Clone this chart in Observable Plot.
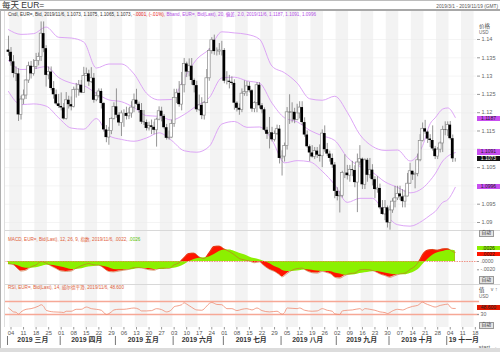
<!DOCTYPE html>
<html><head><meta charset="utf-8">
<script src="https://cdn.jsdelivr.net/npm/d3@7"></script>
<script src="https://cdn.jsdelivr.net/npm/@observablehq/plot@0.6"></script>
<style>
html,body{margin:0;padding:0;background:#fff}
#root{position:relative;width:500px;height:352px;overflow:hidden;font-family:"Liberation Sans","Noto Sans CJK SC",sans-serif;color:#333;background:#fff}
#root svg{position:absolute;left:0;overflow:visible}
.t{position:absolute;white-space:nowrap;line-height:1}
.row{position:absolute;white-space:nowrap;line-height:1;display:flex}
.row span{white-space:pre}
.box{position:absolute;left:477px;width:23px;font-size:5px;text-align:center;overflow:hidden}
.hl{position:absolute;height:1px}
</style></head><body><div id="root"></div>
<script>
// ---------------- DATA ----------------
const firstDay = "2019-03-01", lastDay = "2019-11-06";
const opens = [1.1371,1.1365,1.1339,1.1307,1.1306,1.1194,1.1236,1.1247,1.1288,1.1327,1.1306,1.1325,1.1341,1.1352,1.1416,1.1375,1.1302,1.1311,1.1266,1.1249,1.1224,
1.1217,1.1213,1.1183,1.1234,1.1222,1.1216,1.1262,1.1263,1.1275,1.1254,1.1300,1.1306,1.1284,1.1294,1.1234,1.1245,1.1258,1.1225,1.1153,1.1132,1.1150,1.1183,
1.1216,1.1193,1.1172,1.1198,1.1198,1.1190,1.1198,1.1214,1.1234,1.1223,1.1206,1.1174,1.1173,1.1157,1.1164,1.1160,1.1152,1.1181,1.1204,1.1190,1.1159,1.1130,1.1132,
1.1169,1.1240,1.1253,1.1222,1.1275,1.1333,1.1311,1.1327,1.1288,1.1274,1.1208,1.1220,1.1192,1.1226,1.1294,1.1369,1.1398,1.1367,1.1367,1.1370,
1.1370,1.1286,1.1286,1.1283,1.1280,1.1226,1.1212,1.1207,1.1252,1.1256,1.1272,1.1260,1.1210,1.1226,1.1275,1.1219,1.1208,1.1152,1.1141,1.1145,1.1126,1.1142,1.1155,
1.1075,1.1080,1.1109,1.1201,1.1200,1.1201,1.1180,1.1198,1.1214,1.1173,1.1139,1.1107,1.1090,1.1079,1.1095,1.1084,1.1081,1.1143,1.1099,1.1087,1.1075,1.1057,
1.0985,1.0971,1.0973,1.1035,1.1035,1.1028,1.1044,1.1042,1.1009,1.1064,1.1073,1.1003,1.1070,1.1029,1.1043,1.1017,1.0990,1.0993,1.0940,1.0922,1.0940,
1.0899,1.0933,1.0957,1.0966,1.0978,1.0970,1.0957,1.0971,1.1006,1.1040,1.1030,1.1033,1.1070,1.1123,1.1156,1.1147,1.1128,1.1124,1.1101,1.1080,1.1099,1.1116,1.1153,
1.1152,1.1166,1.1129,1.1073];
const highs = [1.1409,1.1378,1.1356,1.1325,1.1320,1.1245,1.1262,1.1290,1.1338,1.1340,1.1345,1.1362,1.1363,1.1448,1.1448,1.1383,1.1325,1.1325,1.1285,1.1262,1.1250,
1.1254,1.1225,1.1255,1.1245,1.1243,1.1270,1.1280,1.1288,1.1288,1.1324,1.1322,1.1316,1.1323,1.1307,1.1255,1.1265,1.1265,1.1228,1.1165,1.1160,1.1186,1.1227,
1.1265,1.1200,1.1205,1.1208,1.1215,1.1212,1.1230,1.1251,1.1264,1.1229,1.1225,1.1206,1.1180,1.1174,1.1180,1.1174,1.1185,1.1216,1.1215,1.1195,1.1168,1.1150,1.1180,
1.1264,1.1264,1.1285,1.1310,1.1348,1.1338,1.1347,1.1348,1.1292,1.1286,1.1248,1.1241,1.1230,1.1318,1.1375,1.1405,1.1412,1.1377,1.1389,1.1395,
1.1375,1.1312,1.1302,1.1298,1.1290,1.1230,1.1224,1.1265,1.1287,1.1285,1.1283,1.1263,1.1230,1.1282,1.1282,1.1225,1.1213,1.1160,1.1187,1.1160,1.1150,1.1166,1.1165,
1.1096,1.1117,1.1214,1.1249,1.1227,1.1212,1.1223,1.1230,1.1230,1.1186,1.1150,1.1112,1.1110,1.1105,1.1105,1.1112,1.1153,1.1164,1.1116,1.1095,1.1087,1.1064,
1.0995,1.0985,1.1040,1.1085,1.1056,1.1056,1.1067,1.1055,1.1087,1.1110,1.1076,1.1074,1.1075,1.1075,1.1058,1.1025,1.1025,1.1005,1.0960,1.0960,1.0945,
1.0945,1.0965,1.0999,1.0999,1.0999,1.0990,1.0988,1.1034,1.1062,1.1040,1.1036,1.1087,1.1140,1.1172,1.1179,1.1150,1.1140,1.1164,1.1108,1.1105,1.1120,1.1163,1.1175,
1.1175,1.1176,1.1139,1.1075];
const lows = [1.1354,1.1327,1.1295,1.1285,1.1176,1.1180,1.1222,1.1236,1.1280,1.1292,1.1300,1.1318,1.1328,1.1340,1.1364,1.1270,1.1290,1.1260,1.1237,1.1220,1.1212,
1.1205,1.1180,1.1180,1.1210,1.1205,1.1213,1.1240,1.1245,1.1252,1.1254,1.1299,1.1272,1.1280,1.1226,1.1230,1.1240,1.1210,1.1147,1.1118,1.1111,1.1140,1.1180,
1.1185,1.1163,1.1135,1.1160,1.1180,1.1181,1.1185,1.1200,1.1220,1.1198,1.1168,1.1165,1.1150,1.1150,1.1140,1.1140,1.1106,1.1178,1.1175,1.1155,1.1125,1.1125,1.1130,
1.1160,1.1225,1.1215,1.1205,1.1254,1.1296,1.1298,1.1275,1.1254,1.1201,1.1203,1.1181,1.1180,1.1226,1.1286,1.1360,1.1357,1.1355,1.1357,1.1355,
1.1279,1.1276,1.1265,1.1275,1.1207,1.1202,1.1193,1.1200,1.1245,1.1244,1.1254,1.1201,1.1200,1.1200,1.1210,1.1197,1.1148,1.1127,1.1101,1.1120,1.1120,1.1138,1.1060,
1.1027,1.1065,1.1098,1.1168,1.1172,1.1170,1.1178,1.1183,1.1165,1.1133,1.1103,1.1066,1.1076,1.1072,1.1075,1.1065,1.1050,1.1092,1.1080,1.1065,1.1048,1.0965,
1.0959,1.0926,1.0967,1.1020,1.1016,1.1010,1.1025,1.0995,1.0927,1.1055,1.0990,1.0990,1.1010,1.1020,1.1000,1.0965,1.0980,1.0935,1.0920,1.0905,1.0885,
1.0879,1.0925,1.0940,1.0960,1.0960,1.0940,1.0940,1.0970,1.1004,1.1015,1.0992,1.1025,1.1066,1.1120,1.1141,1.1116,1.1105,1.1095,1.1072,1.1072,1.1090,1.1091,1.1137,
1.1135,1.1125,1.1064,1.1065];
const closes = [1.1365,1.1339,1.1307,1.1306,1.1194,1.1236,1.1247,1.1288,1.1327,1.1306,1.1325,1.1341,1.1352,1.1416,1.1375,1.1302,1.1311,1.1266,1.1249,1.1224,1.1217,
1.1213,1.1183,1.1234,1.1222,1.1216,1.1262,1.1263,1.1275,1.1254,1.1300,1.1306,1.1284,1.1294,1.1234,1.1245,1.1258,1.1225,1.1153,1.1132,1.1150,1.1183,1.1216,
1.1193,1.1172,1.1198,1.1198,1.1190,1.1198,1.1214,1.1234,1.1223,1.1206,1.1174,1.1173,1.1157,1.1164,1.1160,1.1152,1.1181,1.1204,1.1190,1.1159,1.1130,1.1132,1.1169,
1.1240,1.1253,1.1222,1.1275,1.1333,1.1311,1.1327,1.1288,1.1274,1.1208,1.1220,1.1192,1.1226,1.1294,1.1369,1.1398,1.1367,1.1367,1.1370,1.1370,
1.1286,1.1286,1.1283,1.1280,1.1226,1.1212,1.1207,1.1252,1.1256,1.1272,1.1260,1.1210,1.1226,1.1275,1.1219,1.1208,1.1152,1.1141,1.1145,1.1126,1.1142,1.1155,1.1075,
1.1080,1.1109,1.1201,1.1200,1.1201,1.1180,1.1198,1.1214,1.1173,1.1139,1.1107,1.1090,1.1079,1.1095,1.1084,1.1081,1.1143,1.1099,1.1087,1.1075,1.1057,1.0985,
1.0971,1.0973,1.1035,1.1035,1.1028,1.1044,1.1042,1.1009,1.1064,1.1073,1.1003,1.1070,1.1029,1.1043,1.1017,1.0990,1.0993,1.0940,1.0922,1.0940,1.0899,
1.0933,1.0957,1.0966,1.0978,1.0970,1.0957,1.0971,1.1006,1.1040,1.1030,1.1033,1.1070,1.1123,1.1156,1.1147,1.1128,1.1124,1.1101,1.1080,1.1099,1.1116,1.1153,1.1152,
1.1166,1.1129,1.1074,1.1073];

// Bollinger (20, 2.0) read at weekly points
const bandDates = ["2019-03-01","2019-03-08","2019-03-15","2019-03-22","2019-03-29","2019-04-05","2019-04-12","2019-04-19","2019-04-26","2019-05-03","2019-05-10","2019-05-17","2019-05-24","2019-05-31","2019-06-07","2019-06-14","2019-06-21","2019-06-28","2019-07-05","2019-07-12","2019-07-19","2019-07-26","2019-08-02","2019-08-09","2019-08-16","2019-08-23","2019-08-30","2019-09-06","2019-09-13","2019-09-20","2019-09-27","2019-10-04","2019-10-11","2019-10-18","2019-10-23","2019-10-25","2019-10-30","2019-11-01","2019-11-06"];
const bandMid = [1.1343,1.1318,1.1320,1.1326,1.1296,1.1281,1.1274,1.1253,1.1235,1.1230,1.1214,1.1192,1.1190,1.1180,1.1195,1.1219,1.1241,1.1295,1.1297,1.1287,1.1281,1.1226,1.1186,1.1175,1.1152,1.1137,1.1124,1.1078,1.1053,1.1037,1.1011,1.0996,1.0981,1.0994,1.1015,1.1033,1.1068,1.1081,1.1091];
const bandUpper = [1.1427,1.1414,1.1416,1.1434,1.1406,1.1404,1.1393,1.1322,1.1333,1.1333,1.1306,1.1253,1.1235,1.1236,1.1294,1.1346,1.1374,1.1421,1.1418,1.1414,1.1401,1.1327,1.1309,1.1281,1.1238,1.1234,1.1245,1.1201,1.1140,1.1108,1.1097,1.1098,1.1068,1.1110,1.1170,1.1186,1.1210,1.1213,1.1187];
const bandLower = [1.1258,1.1222,1.1224,1.1218,1.1186,1.1158,1.1155,1.1184,1.1137,1.1127,1.1122,1.1131,1.1145,1.1124,1.1096,1.1092,1.1108,1.1169,1.1176,1.1160,1.1161,1.1125,1.1063,1.1069,1.1066,1.1040,1.1003,1.0955,1.0966,1.0966,1.0925,1.0894,1.0890,1.0905,1.0920,1.0930,1.0955,1.0962,1.0996];

// MACD (12,26,9)
const macdDates = ["2019-03-01","2019-03-05","2019-03-07","2019-03-08","2019-03-12","2019-03-14","2019-03-18","2019-03-20","2019-03-22","2019-03-26","2019-03-28","2019-04-01","2019-04-03","2019-04-05","2019-04-09","2019-04-12","2019-04-16","2019-04-18","2019-04-22","2019-04-24","2019-04-26","2019-04-30","2019-05-02","2019-05-06","2019-05-08","2019-05-10","2019-05-14","2019-05-16","2019-05-20","2019-05-22","2019-05-24","2019-05-28","2019-05-30","2019-06-03","2019-06-05","2019-06-07","2019-06-11","2019-06-13","2019-06-17","2019-06-19","2019-06-21","2019-06-25","2019-06-27","2019-07-01","2019-07-03","2019-07-05","2019-07-09","2019-07-11","2019-07-15","2019-07-17","2019-07-19","2019-07-23","2019-07-25","2019-07-29","2019-07-31","2019-08-01","2019-08-05","2019-08-07","2019-08-09","2019-08-13","2019-08-15","2019-08-19","2019-08-21","2019-08-23","2019-08-27","2019-08-29","2019-08-30","2019-09-03","2019-09-05","2019-09-09","2019-09-11","2019-09-13","2019-09-17","2019-09-19","2019-09-23","2019-09-25","2019-09-27","2019-10-01","2019-10-03","2019-10-07","2019-10-09","2019-10-11","2019-10-15","2019-10-17","2019-10-18","2019-10-22","2019-10-24","2019-10-28","2019-10-30","2019-11-01","2019-11-04","2019-11-05","2019-11-06"];
const macdValues = [-0.0005,-0.0008,-0.0019,-0.0023,-0.0021,-0.0013,-0.0008,0.0000,-0.0004,-0.0011,-0.0017,-0.0023,-0.0024,-0.0023,-0.0016,-0.0008,-0.0005,-0.0008,-0.0009,-0.0016,-0.0024,-0.0025,-0.0023,-0.0021,-0.0019,-0.0015,-0.0015,-0.0017,-0.0020,-0.0021,-0.0017,-0.0016,-0.0017,-0.0008,-0.0003,0.0009,0.0019,0.0020,0.0011,0.0007,0.0021,0.0036,0.0037,0.0030,0.0024,0.0016,0.0007,0.0004,0.0001,-0.0003,-0.0001,-0.0011,-0.0019,-0.0024,-0.0032,-0.0037,-0.0029,-0.0021,-0.0017,-0.0016,-0.0023,-0.0027,-0.0028,-0.0024,-0.0027,-0.0032,-0.0038,-0.0040,-0.0034,-0.0029,-0.0028,-0.0020,-0.0019,-0.0020,-0.0024,-0.0030,-0.0034,-0.0038,-0.0034,-0.0030,-0.0028,-0.0019,-0.0011,0.0005,0.0016,0.0027,0.0029,0.0027,0.0030,0.0031,0.0028,0.0024,0.0022];
const signalValues = [-0.0008,-0.0008,-0.0011,-0.0013,-0.0016,-0.0016,-0.0015,-0.0012,-0.0009,-0.0009,-0.0011,-0.0013,-0.0016,-0.0019,-0.0019,-0.0016,-0.0013,-0.0012,-0.0011,-0.0012,-0.0015,-0.0019,-0.0020,-0.0020,-0.0020,-0.0019,-0.0017,-0.0017,-0.0017,-0.0019,-0.0019,-0.0019,-0.0017,-0.0016,-0.0013,-0.0008,0.0000,0.0005,0.0008,0.0009,0.0011,0.0017,0.0024,0.0028,0.0028,0.0025,0.0020,0.0016,0.0011,0.0007,0.0004,0.0000,-0.0005,-0.0012,-0.0017,-0.0021,-0.0024,-0.0024,-0.0023,-0.0021,-0.0020,-0.0021,-0.0023,-0.0024,-0.0024,-0.0025,-0.0028,-0.0030,-0.0033,-0.0033,-0.0032,-0.0029,-0.0027,-0.0025,-0.0024,-0.0025,-0.0028,-0.0030,-0.0032,-0.0032,-0.0032,-0.0029,-0.0024,-0.0015,-0.0008,0.0005,0.0015,0.0021,0.0024,0.0027,0.0027,0.0027,0.0026];

// RSI (14, Wilder)
const rsiDates = ["2019-03-01","2019-03-04","2019-03-05","2019-03-06","2019-03-07","2019-03-08","2019-03-12","2019-03-14","2019-03-19","2019-03-20","2019-03-21","2019-03-22","2019-03-27","2019-04-01","2019-04-02","2019-04-03","2019-04-05","2019-04-09","2019-04-11","2019-04-15","2019-04-17","2019-04-19","2019-04-23","2019-04-25","2019-04-29","2019-04-30","2019-05-02","2019-05-06","2019-05-08","2019-05-10","2019-05-14","2019-05-15","2019-05-17","2019-05-21","2019-05-23","2019-05-27","2019-05-29","2019-05-31","2019-06-03","2019-06-04","2019-06-06","2019-06-07","2019-06-10","2019-06-12","2019-06-14","2019-06-18","2019-06-20","2019-06-21","2019-06-24","2019-06-26","2019-06-28","2019-07-02","2019-07-04","2019-07-08","2019-07-10","2019-07-12","2019-07-16","2019-07-18","2019-07-22","2019-07-25","2019-07-30","2019-08-01","2019-08-02","2019-08-05","2019-08-09","2019-08-12","2019-08-14","2019-08-19","2019-08-21","2019-08-23","2019-08-27","2019-08-29","2019-08-30","2019-09-03","2019-09-04","2019-09-06","2019-09-10","2019-09-13","2019-09-16","2019-09-17","2019-09-19","2019-09-23","2019-09-25","2019-09-27","2019-09-30","2019-10-02","2019-10-04","2019-10-08","2019-10-10","2019-10-14","2019-10-16","2019-10-18","2019-10-21","2019-10-23","2019-10-25","2019-10-29","2019-10-31","2019-11-01","2019-11-04","2019-11-05","2019-11-06"];
const rsiValues = [50,44,38,37,31,38,46,48,56,60,55,43,38,37,36,40,40,46,46,53,48,46,43,30,38,44,46,46,48,50,46,41,41,42,48,45,38,45,54,56,60,66,62,52,44,43,56,64,67,61,60,48,48,42,46,48,44,50,42,38,40,31,36,50,48,50,43,40,41,48,43,40,32,30,41,43,44,48,43,48,46,43,38,36,33,41,46,44,50,55,58,68,64,58,53,58,61,62,53,48.7,48.6];

// axis labels
const weekLabels = ["04","11","18","25","01","08","15","22","29","06","13","20","27","03","10","17","24","01","08","15","22","29","05","12","19","26","02","09","16","23","30","07","14","21","28","04","11","18"];
const monthLabels = ["2019 三月","2019 四月","2019 五月","2019 六月","2019 七月","2019 八月","2019 九月","2019 十月","19 十一月"];
const priceTicks = [1.09,1.095,1.1,1.105,1.11,1.115,1.12,1.125,1.13,1.135,1.14];
const priceTickLabels = [1.09,1.095,1.105,1.115,1.12,1.125,1.13,1.135,1.14];
const last = {close: 1.1073, upper: 1.1187, mid: 1.1091, lower: 1.0996, macd: 0.0022, signal: 0.0026, rsi: 48.6};

// ---------------- BUILD ----------------
const fmtDay = d3.utcFormat("%Y-%m-%d");
const days = d3.utcDays(new Date(firstDay), d3.utcDay.offset(new Date(lastDay), 1)).filter(d => d.getUTCDay() % 6 !== 0);
const dayIdx = new Map(days.map((d, i) => [fmtDay(d), i]));
const candles = days.map((d, i) => ({i, o: opens[i], h: highs[i], l: lows[i], c: closes[i]}));
const bands = bandDates.map((d, k) => ({i: dayIdx.get(d), up: bandUpper[k], mid: bandMid[k], lo: bandLower[k]}));
const macd = macdDates.map((d, k) => ({i: dayIdx.get(d), m: macdValues[k], s: signalValues[k]}));
const rsi = rsiDates.map((d, k) => ({i: dayIdx.get(d), v: rsiValues[k]}));
const weeks = d3.range(-1, 38).map(w => ({x1: 5 * w + 0.5, x2: 5 * w + 5.5, gray: w % 2 === 0}));
const grayWeeks = weeks.filter(w => w.gray);
const monthStarts = [];
days.forEach((d, i) => { if (i === 0 || d.getUTCMonth() !== days[i - 1].getUTCMonth()) monthStarts.push(i); });
const months = monthLabels.map((lab, k) => ({lab, start: monthStarts[k], end: k + 1 < monthStarts.length ? monthStarts[k + 1] : null}));
const weekTicks = weekLabels.map((lab, k) => 1 + 5 * k);
const tickLab = new Map(weekTicks.map((t, k) => [t, weekLabels[k]]));

const xDomain = [-1.59, 186.46];
const FONT = '"Liberation Sans","Noto Sans CJK SC",sans-serif';
const root = document.getElementById("root");
const base = (h) => ({width: 500, height: h, marginLeft: 4, marginRight: 24, marginTop: 0, marginBottom: 0,
  x: {domain: xDomain, axis: null}, style: {background: "transparent", fontFamily: FONT, fontSize: "6px", color: "#555"}});
const stripes = Plot.rect(grayWeeks, {x1: "x1", x2: "x2", fill: "#f3f3f3", clip: true});
function place(svg, top) { svg.style.top = top + "px"; root.appendChild(svg); return svg; }
function div(cls, html, css) { const e = document.createElement("div"); e.className = cls; e.innerHTML = html; Object.assign(e.style, css); root.appendChild(e); return e; }
function row(parts, css) { const e = div("row", "", css); parts.forEach(([txt, col]) => { const s = document.createElement("span"); s.textContent = txt; s.style.color = col; e.appendChild(s); }); return e; }

// price panel
const PT = 11, PH = 219;
const price = Plot.plot({...base(PH),
  y: {domain: [1.087814, 1.14765], axis: null},
  marks: [
    stripes,
    Plot.ruleY(priceTicks, {stroke: "#ececec", strokeWidth: 0.6}),
    Plot.axisY({anchor: "right", ticks: priceTicks, tickFormat: () => "", tickSize: 3, stroke: "#999"}),
    Plot.axisY({anchor: "right", ticks: priceTickLabels, tickFormat: d => String(+d.toFixed(3)), tickSize: 0, tickPadding: 5, fontSize: 5.6, color: "#666"}),
    Plot.line(bands, {x: "i", y: "up", stroke: "#d99cf5", strokeWidth: 0.9, curve: "monotone-x"}),
    Plot.line(bands, {x: "i", y: "mid", stroke: "#d99cf5", strokeWidth: 0.9, curve: "monotone-x"}),
    Plot.line(bands, {x: "i", y: "lo", stroke: "#d99cf5", strokeWidth: 0.9, curve: "monotone-x"}),
    Plot.ruleX(candles, {x: "i", y1: "l", y2: "h", stroke: "#7a7a7a", strokeWidth: 0.8}),
    Plot.rect(candles.filter(d => d.c >= d.o), {x1: d => d.i - 0.55, x2: d => d.i + 0.55, y1: "o", y2: "c", fill: "#fff", stroke: "#8a8a8a", strokeWidth: 0.7}),
    Plot.rect(candles.filter(d => d.c < d.o), {x1: d => d.i - 0.55, x2: d => d.i + 0.55, y1: "o", y2: "c", fill: "#000"})
  ]});
place(price, PT);
const py = price.scale("y");

// MACD panel
const MT = 230, MH = 54;
const macdPlot = Plot.plot({...base(MH),
  y: {domain: [-0.005542, 0.00747], axis: null},
  marks: [
    stripes,
    Plot.areaY(macd, {x: "i", y: "m", fill: "#ff1400", curve: "monotone-x"}),
    Plot.areaY(macd, {x: "i", y: "s", fill: "#8cf000", curve: "monotone-x"}),
    Plot.lineY(macd, {x: "i", y: "m", stroke: "#c8642c", strokeWidth: 0.6, curve: "monotone-x"}),
    Plot.ruleY([0], {stroke: "#f07a6a", strokeWidth: 0.8, strokeDasharray: "1.5,1", insetRight: -3}),
    Plot.axisY({anchor: "right", ticks: [0, -0.002], tickFormat: d => d === 0 ? ".0000" : "-.0020", tickSize: 2, tickPadding: 2, fontSize: 5.2, color: "#666", stroke: "#999"})
  ]});
place(macdPlot, MT);
const my = macdPlot.scale("y");

// RSI panel
const RT = 284, RH = 43;
const rsiPlot = Plot.plot({...base(RH),
  y: {domain: [-10, 122.3], axis: null},
  marks: [
    stripes,
    Plot.ruleY([70, 30], {stroke: "#f6a896", strokeWidth: 1.3, insetRight: -3}),
    Plot.line(rsi, {x: "i", y: "v", stroke: "#f08a70", strokeWidth: 0.8, curve: "monotone-x"}),
    Plot.axisY({anchor: "right", ticks: [30], tickSize: 2, tickPadding: 2, fontSize: 5.2, color: "#666", stroke: "#999"})
  ]});
place(rsiPlot, RT);
const ry = rsiPlot.scale("y");

// X axis
const XT = 327;
const xAxis = Plot.plot({width: 500, height: 24, marginLeft: 4, marginRight: 24, marginTop: 0, marginBottom: 24,
  x: {domain: xDomain, axis: null}, style: {background: "transparent", fontFamily: FONT, fontSize: "6px", color: "#555"},
  marks: [
    Plot.axisX({anchor: "bottom", ticks: weekTicks, tickFormat: d => tickLab.get(d), tickSize: 2.5, tickPadding: 0.5, fontSize: 5.8, color: "#555", stroke: "#999"}),
    Plot.ruleX(monthStarts, {x: d => d - 0.4, stroke: "#666", strokeWidth: 0.9, insetTop: 9, insetBottom: -18}),
    Plot.text(months.filter(m => m.end !== null), {x: m => (m.start + m.end) / 2 - 0.8, text: "lab", frameAnchor: "bottom", dy: 14.8, fontSize: 6.9, fontWeight: "bold", fill: "#333"}),
    Plot.text(months.filter(m => m.end === null), {x: "start", text: "lab", frameAnchor: "bottom", dy: 14.8, dx: 1, textAnchor: "start", fontSize: 6.9, fontWeight: "bold", fill: "#333"})
  ]});
place(xAxis, XT);

// frame lines
div("hl", "", {left: "0px", top: "0px", width: "500px", background: "#bdbdbd"});
div("hl", "", {left: "0px", top: "9px", width: "500px", background: "#a8a8a8", height: "1.5px"});
div("hl", "", {left: "4px", top: MT + "px", width: "496px", background: "#d8d8d8"});
div("hl", "", {left: "4px", top: RT + "px", width: "496px", background: "#d8d8d8"});
div("hl", "", {left: "0px", top: "348px", width: "500px", background: "#dcdcdc", height: "4px"});
div("hl", "", {left: "0px", top: "10px", width: "1px", height: "338px", background: "#b0b0b0"});
div("hl", "", {left: "4px", top: "11px", width: "1px", height: "316px", background: "#dedede"});

// titles / legends
div("t", "每天 EUR=", {left: "2px", top: "1px", fontSize: "8.5px", color: "#333"});
div("t", "2019/3/1 - 2019/11/19 (GMT)", {right: "2px", top: "4.5px", fontSize: "4.8px", color: "#555"});
row([["Cndl, EUR=, Bid, 2019/11/6, 1.1073, 1.1075, 1.1065, 1.1073, ", "#333"], ["-.0001, (-.01%), ", "#e82020"], ["Bband, EUR=, Bid(Last), 20, 偏差, 2.0, 2019/11/6, 1.1187, 1.1091, 1.0996", "#b450e6"]],
  {left: "8px", top: "12.8px", fontSize: "4.6px"});
row([["MACD, EUR=, Bid(Last), 12, 26, 9, 指数, 2019/11/6, .0022, ", "#e0603a"], [".0026", "#55c000"]], {left: "8px", top: "238px", fontSize: "4.6px"});
row([["RSI, EUR=, Bid(Last), 14, 威尔德平滑, 2019/11/6, 48.600", "#e0603a"]], {left: "8px", top: "285.5px", fontSize: "4.6px"});
div("t", "价格", {left: "479px", top: "23.5px", fontSize: "5.5px", color: "#444"});
div("t", "USD", {left: "479px", top: "30.5px", fontSize: "4.5px", color: "#666"});
div("t", "值", {left: "479px", top: "287.5px", fontSize: "5.5px", color: "#444"});
div("t", "USD", {left: "479px", top: "294.5px", fontSize: "4.5px", color: "#666"});

// value boxes positioned via scales
const box = (txt, center, h, bg, fg) => div("box", txt, {top: (center - h / 2) + "px", height: h + "px", lineHeight: h + "px", background: bg, color: fg});
box(last.upper.toFixed(4), PT + py.apply(last.upper) + 1.2, 5, "#c84ef0", "#222");
box(last.mid.toFixed(4), PT + py.apply(last.mid), 5.2, "#c84ef0", "#222");
box(last.close.toFixed(4), PT + py.apply(last.close), 5.2, "#111", "#fff");
box(last.lower.toFixed(4), PT + py.apply(last.lower), 5.2, "#c84ef0", "#222");
box(".0026", MT + my.apply(last.signal) - 2, 4.5, "#8cf000", "#222");
box(".0022", MT + my.apply(last.macd) + 2.3, 4.5, "#ff1400", "#222");
box("48.600", RT + ry.apply(last.rsi), 5, "#e01800", "#222");
const auto = (top) => div("t", "自动", {left: "479px", top: top + "px", fontSize: "4.8px", background: "#e4e4e4", border: "0.5px solid #999", padding: "0.5px 1.5px", color: "#333"});
auto(229.5); auto(276); auto(321.5);
</script></body></html>
